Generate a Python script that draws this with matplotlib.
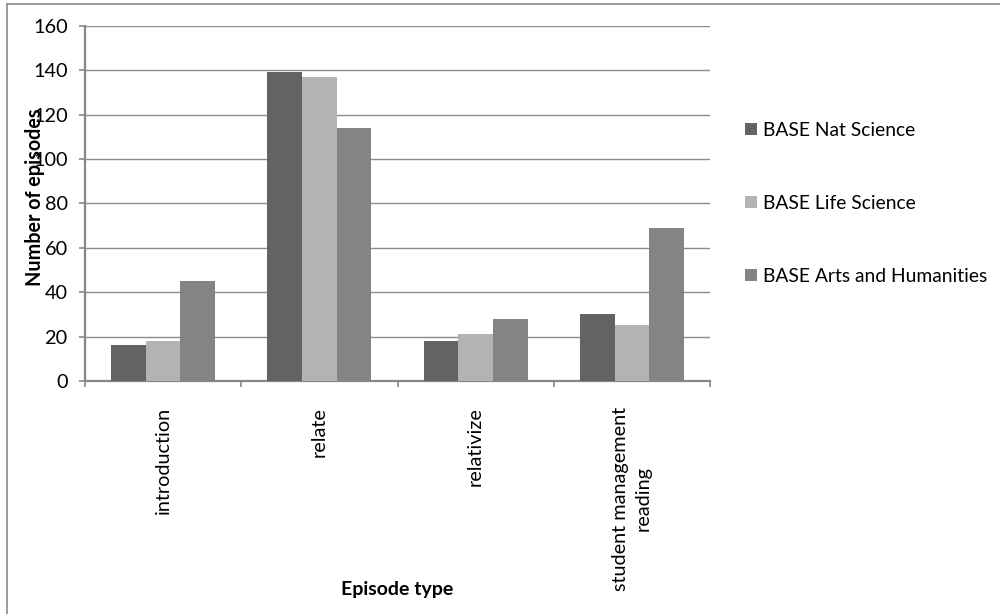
import matplotlib
matplotlib.use("Agg")
import matplotlib.pyplot as plt
import numpy as np
from matplotlib.lines import Line2D

categories = ["introduction", "relate", "relativize", "student management\nreading"]
series_names = ["BASE Nat Science", "BASE Life Science", "BASE Arts and Humanities"]
nat_science = [16, 139, 18, 30]
life_science = [18, 137, 21, 25]
arts_humanities = [45, 114, 28, 69]
y_ticks = [0, 20, 40, 60, 80, 100, 120, 140, 160]

colors = ["#636363", "#b3b3b3", "#848484"]

plt.rcParams['font.family'] = ['Lato', 'DejaVu Sans']

fig = plt.figure(figsize=(10, 6.14), dpi=100)
ax = fig.add_axes([0.085, 0.3795, 0.625, 0.5786])

x = np.arange(len(categories))
bw = 1 / 4.5
series = [nat_science, life_science, arts_humanities]
handles = []
for i, (vals, name, c) in enumerate(zip(series, series_names, colors)):
    b = ax.bar(x + (i - 1) * bw, vals, width=bw, color=c, label=name, zorder=3, linewidth=0)
    handles.append(b)

ax.set_xlim(-0.5, len(categories) - 0.5)
ax.set_ylim(0, 160)
ax.set_yticks(y_ticks)
ax.set_yticklabels([str(t) for t in y_ticks])
ax.yaxis.grid(True, color="#8c8c8c", linewidth=1.0, zorder=0)
ax.set_axisbelow(True)

# major ticks at category boundaries, labels on minor ticks at centers
ax.set_xticks(np.arange(len(categories) + 1) - 0.5)
ax.set_xticklabels([])
ax.set_xticks(x, minor=True)
ax.set_xticklabels(categories, minor=True, rotation=90, ha='center', va='top',
                   fontsize=14.3, linespacing=1.35)
ax.tick_params(axis='x', which='minor', length=0, pad=18.5)
ax.tick_params(axis='x', which='major', length=4.5, width=1.2, color="#878787", direction='out')
ax.tick_params(axis='y', length=4, width=1.2, color="#878787", direction='out', pad=8.5, labelsize=14.3)

for s in ['top', 'right']:
    ax.spines[s].set_visible(False)
for s in ['left', 'bottom']:
    ax.spines[s].set_color("#878787")
    ax.spines[s].set_linewidth(1.6)

fig.text(0.035, 1 - 197 / 614, "Number of episodes", rotation=90, ha='center', va='center',
         fontsize=14.2, fontweight='bold')
fig.text(0.397, 1 - 589 / 614, "Episode type", ha='center', va='center',
         fontsize=14, fontweight='bold')

leg = ax.legend(handles=handles, loc='center left', bbox_to_anchor=(0.745, 1 - 203.5 / 614),
                bbox_transform=fig.transFigure, frameon=False, fontsize=13.9,
                handlelength=0.62, handleheight=0.62, handletextpad=0.3,
                labelspacing=2.9, borderpad=0, borderaxespad=0)

# outer chart border (top and left only visible)
fig.add_artist(Line2D([0.0065, 0.0065], [0, 1 - 4 / 614], transform=fig.transFigure,
                      color="#8a8a8a", linewidth=1.2))
fig.add_artist(Line2D([0.0065, 1.0], [1 - 4 / 614, 1 - 4 / 614], transform=fig.transFigure,
                      color="#8a8a8a", linewidth=1.2))

fig.savefig("out.png", dpi=100)
